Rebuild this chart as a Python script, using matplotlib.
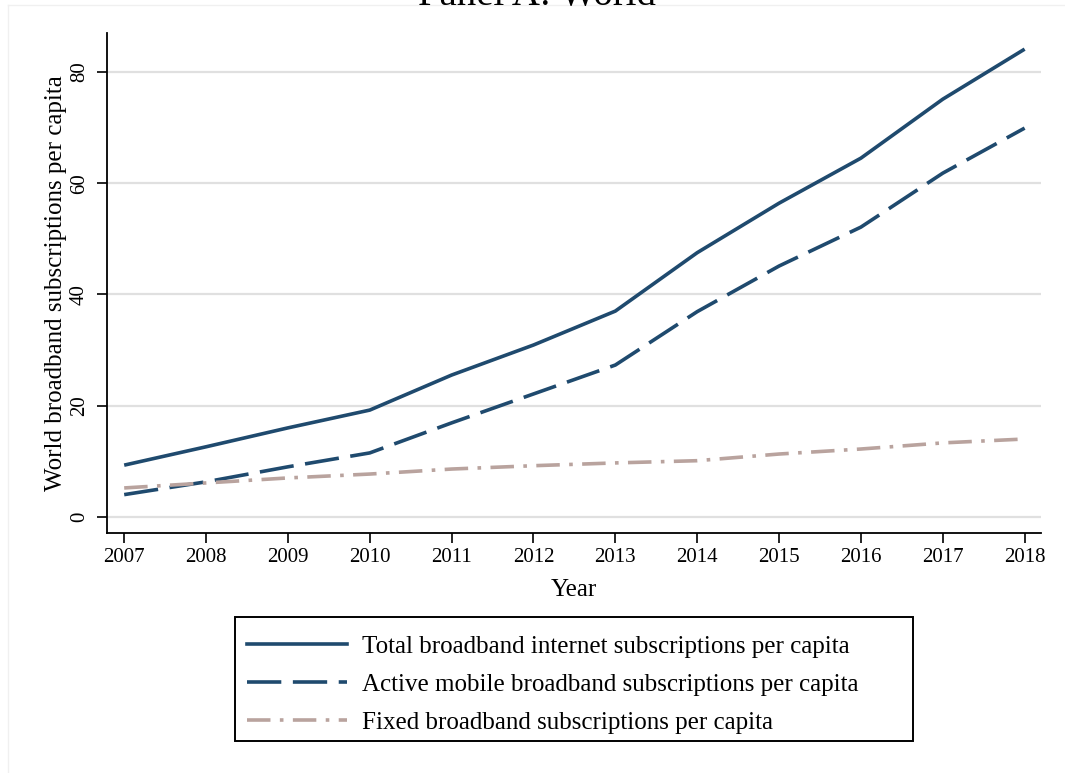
import matplotlib
matplotlib.use("Agg")
import matplotlib.pyplot as plt
from matplotlib.lines import Line2D
from matplotlib.patches import Rectangle

years = [2007, 2008, 2009, 2010, 2011, 2012, 2013, 2014, 2015, 2016, 2017, 2018]
total_broadband = [9.3, 12.6, 16.0, 19.2, 25.5, 30.9, 37.0, 47.5, 56.4, 64.5, 75.1, 84.1]
mobile_broadband = [4.0, 6.3, 9.0, 11.5, 16.9, 22.1, 27.3, 36.9, 45.1, 52.1, 61.8, 69.9]
fixed_broadband = [5.2, 6.1, 7.0, 7.7, 8.6, 9.2, 9.7, 10.1, 11.3, 12.2, 13.3, 14.0]

y_ticks = [0, 20, 40, 60, 80]
series_labels = [
    "Total broadband internet subscriptions per capita",
    "Active mobile broadband subscriptions per capita",
    "Fixed broadband subscriptions per capita",
]

navy = "#1f4a6e"
rose = "#b9a39e"
dash_mobile = (9.5, 3.2)
dash_fixed = (6.5, 2.6, 1, 2.6)

plt.rcParams["font.family"] = ["Liberation Serif", "DejaVu Serif"]

W, H = 1065, 773
fig = plt.figure(figsize=(W / 100, H / 100), dpi=100)
ax = fig.add_axes([107 / W, 1 - 533 / H, (1041 - 107) / W, (533 - 33) / H])

ax.plot(years, total_broadband, color=navy, lw=2.6, solid_capstyle="butt")
ax.plot(years, mobile_broadband, color=navy, lw=2.6, dashes=dash_mobile)
ax.plot(years, fixed_broadband, color=rose, lw=2.6, dashes=dash_fixed)

ax.set_xlim(2006.79, 2018.2)
ax.set_ylim(-2.9, 87.0)
ax.set_xticks(years)
ax.set_yticks(y_ticks)
ax.tick_params(axis="both", labelsize=15, length=7, width=1.2, direction="out", colors="black")
ax.tick_params(axis="y", labelrotation=90, pad=6)
for lab in ax.get_yticklabels():
    lab.set_verticalalignment("center")
ax.grid(axis="y", color="#e0e0e0", lw=1.6)
ax.set_axisbelow(True)
for side in ("top", "right"):
    ax.spines[side].set_visible(False)
for side in ("left", "bottom"):
    ax.spines[side].set_linewidth(1.3)

ax.set_xlabel("Year", fontsize=18, labelpad=9)
ax.set_ylabel("World broadband subscriptions per capita", fontsize=18, labelpad=2)

fig.text(537 / W, 1 - 5 / H, "Panel A: World", fontsize=28, ha="center", va="baseline")

# legend box drawn as its own frame, entries placed inside it
fig.add_artist(Rectangle((235 / W, 1 - 741 / H), (913 - 235) / W, (741 - 617) / H,
                         transform=fig.transFigure, fill=False, edgecolor="black", lw=1.4))
handles = [
    Line2D([], [], color=navy, lw=2.6),
    Line2D([], [], color=navy, lw=2.6, dashes=dash_mobile),
    Line2D([], [], color=rose, lw=2.6, dashes=dash_fixed),
]
leg = fig.legend(
    handles, series_labels,
    loc="upper left", bbox_to_anchor=(247 / W, 1 - 635 / H),
    fontsize=18, frameon=False,
    handlelength=4.0, handletextpad=0.6, labelspacing=0.62,
    borderpad=0, borderaxespad=0,
)

# faint outer frame edges
fig.add_artist(Line2D([8 / W, 8 / W], [0, 1 - 5 / H], color="#f0f0f0", lw=1, transform=fig.transFigure))
fig.add_artist(Line2D([8 / W, 1], [1 - 5 / H, 1 - 5 / H], color="#f0f0f0", lw=1, transform=fig.transFigure))

fig.savefig("out.png", dpi=100)
